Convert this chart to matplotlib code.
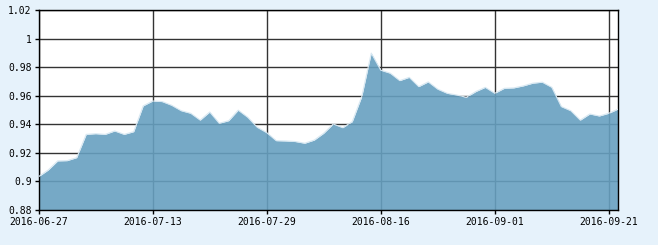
import matplotlib
matplotlib.use("Agg")
import matplotlib.pyplot as plt
import numpy as np

# Chinese trading days, 2016-06-27 .. 2016-09-22
dates = (
    ["2016-06-%02d" % d for d in [27, 28, 29, 30]]
    + ["2016-07-%02d" % d for d in [1, 4, 5, 6, 7, 8, 11, 12, 13, 14, 15, 18, 19, 20,
                                    21, 22, 25, 26, 27, 28, 29]]
    + ["2016-08-%02d" % d for d in [1, 2, 3, 4, 5, 8, 9, 10, 11, 12, 15, 16, 17, 18,
                                    19, 22, 23, 24, 25, 26, 29, 30, 31]]
    + ["2016-09-%02d" % d for d in [1, 2, 5, 6, 7, 8, 9, 12, 13, 14, 19, 20, 21, 22]]
)

values = [
    0.9034, 0.9080, 0.9144, 0.9146, 0.9167, 0.9330, 0.9335, 0.9330, 0.9354, 0.9330,
    0.9349, 0.9530, 0.9564, 0.9560, 0.9534, 0.9496, 0.9478, 0.9430, 0.9487, 0.9408,
    0.9426, 0.9500, 0.9450, 0.9380, 0.9342, 0.9286, 0.9284, 0.9280, 0.9268, 0.9290,
    0.9338, 0.9403, 0.9377, 0.9419, 0.9595, 0.9900, 0.9780, 0.9759, 0.9707, 0.9730,
    0.9665, 0.9698, 0.9647, 0.9618, 0.9606, 0.9590, 0.9630, 0.9660, 0.9618, 0.9653,
    0.9656, 0.9670, 0.9689, 0.9696, 0.9660, 0.9525, 0.9496, 0.9430, 0.9473, 0.9459,
    0.9478, 0.9508,
]

y_ticks = [0.88, 0.9, 0.92, 0.94, 0.96, 0.98, 1.0, 1.02]
y_labels = ["0.88", "0.9", "0.92", "0.94", "0.96", "0.98", "1", "1.02"]

x = np.arange(len(dates))

fig = plt.figure(figsize=(6.58, 2.45), dpi=100)
fig.patch.set_facecolor("#e6f2fb")
ax = fig.add_axes([0.0588, 0.1429, 0.8809, 0.8151])
ax.set_facecolor("white")

ax.grid(True, color="#333333", linewidth=1)
ax.set_axisbelow(True)

ax.fill_between(x, 0.88, values, color="#67a0c0", alpha=0.9, linewidth=0, zorder=2)
ax.plot(x, values, color="#d8e8f2", linewidth=0.8, zorder=3)

ax.set_xlim(0, len(dates) - 1)
ax.set_ylim(0.88, 1.02)

tick_pos = x[::12]
ax.set_xticks(tick_pos)
ax.set_xticklabels([dates[i] for i in tick_pos])
ax.set_yticks(y_ticks)
ax.set_yticklabels(y_labels)

for s in ax.spines.values():
    s.set_color("black")
    s.set_linewidth(1)

ax.tick_params(axis="both", length=3, width=1, color="black", direction="out",
               labelsize=7, pad=2)
for lab in ax.get_xticklabels() + ax.get_yticklabels():
    lab.set_family("DejaVu Sans Mono")

fig.savefig("out.png", dpi=100, facecolor=fig.get_facecolor())
